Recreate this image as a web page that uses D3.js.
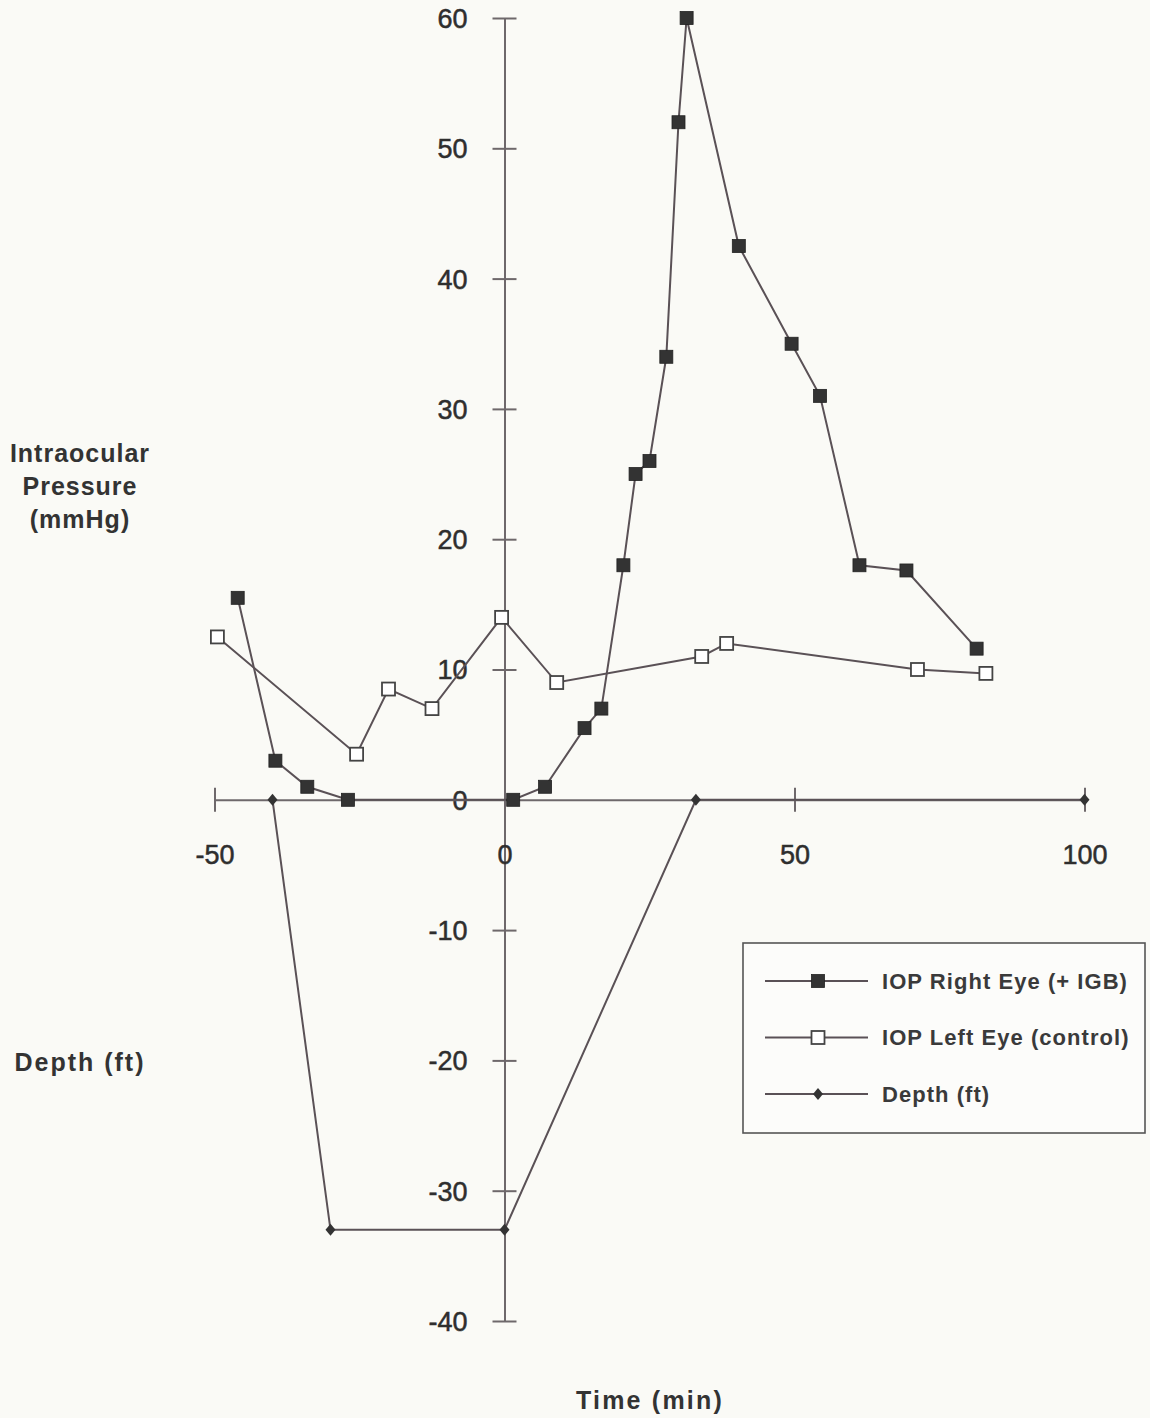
<!DOCTYPE html>
<html>
<head>
<meta charset="utf-8">
<script src="https://cdn.jsdelivr.net/npm/d3@7"></script>
<style>
  html, body { margin: 0; padding: 0; background: #fafaf6; }
  svg { display: block; }
  text { font-family: "Liberation Sans", Arial, Helvetica, sans-serif; fill: #333; }
</style>
</head>
<body>
<svg id="chart" width="1150" height="1418"></svg>
<script>
// Time (min) and intraocular pressure (mmHg), right eye with IGB
const rightTime = [-46, -39.5, -34, -27, 1.5, 7, 13.8, 16.7, 20.5, 22.6, 25, 27.9, 30, 31.4, 40.4, 49.5, 54.4, 61.2, 69.3, 81.4];
const rightIOP  = [15.5, 3, 1, 0, 0, 1, 5.5, 7, 18, 25, 26, 34, 52, 60, 42.5, 35, 31, 18, 17.6, 11.6];

// Left eye (control)
const leftTime = [-49.5, -25.5, -20, -12.5, -0.5, 9, 34, 38.3, 71.2, 83];
const leftIOP  = [12.5, 3.5, 8.5, 7, 14, 9, 11, 12, 10, 9.7];

// Dive profile, depth in feet (negative = below surface)
const depthTime = [-40, -30, 0, 33, 100];
const depthFt   = [0, -33, -33, 0, 0];

// Axis ticks
const xTicks = [-50, 0, 50, 100];
const yTicks = [60, 50, 40, 30, 20, 10, 0, -10, -20, -30, -40];

const seriesNames = ["IOP Right Eye (+ IGB)", "IOP Left Eye (control)", "Depth (ft)"];

const svg = d3.select("#chart");
const lineColor = "#5a5156";
const axisColor = "#6e686b";
const markFill = "#333";

const x = d3.scaleLinear().domain([-50, 100]).range([214.5, 1084.5]);
const y = d3.scaleLinear().domain([-40, 60]).range([1321, 18]);

const plain = d => String(d);   // hyphen-minus, as printed on the axes

// Y axis: ticks cross the axis line
const yAxis = svg.append("g")
  .attr("transform", `translate(${x(0)},0)`)
  .call(d3.axisLeft(y).tickValues(yTicks).tickSizeOuter(0).tickFormat(plain));
yAxis.select(".domain").attr("stroke", axisColor).attr("stroke-width", 2);
yAxis.selectAll(".tick line")
  .attr("x1", -12).attr("x2", 12)
  .attr("stroke", axisColor).attr("stroke-width", 2)
  .attr("display", d => d === 0 ? "none" : null);
yAxis.selectAll(".tick text")
  .attr("x", -37).attr("dy", "0.35em")
  .style("font-size", "27px").style("fill", "#2e2e2e")
  .style("stroke", "#2e2e2e").style("stroke-width", 0.5);

// X axis through zero pressure / surface
const xAxis = svg.append("g")
  .attr("transform", `translate(0,${y(0)})`)
  .call(d3.axisBottom(x).tickValues(xTicks).tickSizeOuter(0).tickFormat(plain));
xAxis.select(".domain").attr("stroke", axisColor).attr("stroke-width", 2);
xAxis.selectAll(".tick line")
  .attr("y1", -12).attr("y2", 12)
  .attr("stroke", axisColor).attr("stroke-width", 2)
  .attr("display", d => d === 0 ? "none" : null);
xAxis.selectAll(".tick text")
  .attr("y", 55).attr("dy", "0.35em")
  .style("font-size", "27px").style("fill", "#2e2e2e")
  .style("stroke", "#2e2e2e").style("stroke-width", 0.5);

const line = d3.line().x(d => x(d[0])).y(d => y(d[1]));

function drawSeries(times, values, marker) {
  const pts = times.map((t, i) => [t, values[i]]);
  svg.append("path")
    .datum(pts)
    .attr("d", line)
    .attr("fill", "none")
    .attr("stroke", lineColor)
    .attr("stroke-width", 2);
  const g = svg.append("g");
  pts.forEach(p => marker(g, x(p[0]), y(p[1])));
}

function filledSquare(g, cx, cy) {
  g.append("rect").attr("x", cx - 6.5).attr("y", cy - 6.5)
    .attr("width", 13).attr("height", 13)
    .attr("fill", markFill).attr("stroke", "#222").attr("stroke-width", 0.8);
}
function openSquare(g, cx, cy) {
  g.append("rect").attr("x", cx - 6.5).attr("y", cy - 6.5)
    .attr("width", 13).attr("height", 13)
    .attr("fill", "#fff").attr("stroke", "#444").attr("stroke-width", 1.8);
}
function diamond(g, cx, cy) {
  g.append("path")
    .attr("d", `M${cx},${cy - 6}L${cx + 5},${cy}L${cx},${cy + 6}L${cx - 5},${cy}Z`)
    .attr("fill", markFill);
}

drawSeries(depthTime, depthFt, diamond);
drawSeries(leftTime, leftIOP, openSquare);
drawSeries(rightTime, rightIOP, filledSquare);

// Axis titles
const titleStyle = (sel, spacing) => sel.style("font-size", "25px").style("font-weight", "bold")
  .style("letter-spacing", spacing)
  .attr("text-anchor", "middle").style("fill", "#333");
const yTitle = svg.append("text").attr("x", 80).call(titleStyle, "1px");
["Intraocular", "Pressure", "(mmHg)"].forEach((s, i) =>
  yTitle.append("tspan").attr("x", 80).attr("y", 462 + i * 33).text(s));
svg.append("text").attr("x", 80).attr("y", 1071).call(titleStyle, "2px").text("Depth (ft)");
svg.append("text").attr("x", 650).attr("y", 1409).call(titleStyle, "2.2px").text("Time (min)");

// Legend
const legend = svg.append("g");
legend.append("rect")
  .attr("x", 743).attr("y", 943).attr("width", 402).attr("height", 190)
  .attr("fill", "#fcfcfa").attr("stroke", "#555").attr("stroke-width", 1.6);
const markers = [filledSquare, openSquare, diamond];
seriesNames.forEach((name, i) => {
  const ly = 981 + i * 56.5;
  legend.append("line")
    .attr("x1", 765).attr("x2", 868).attr("y1", ly).attr("y2", ly)
    .attr("stroke", lineColor).attr("stroke-width", 2);
  markers[i](legend, 818, ly);
  legend.append("text")
    .attr("x", 882).attr("y", ly).attr("dy", "0.36em")
    .style("font-size", "22px").style("font-weight", "bold")
    .style("letter-spacing", "1.05px").style("fill", "#3a3a3a")
    .text(name);
});
</script>
</body>
</html>
